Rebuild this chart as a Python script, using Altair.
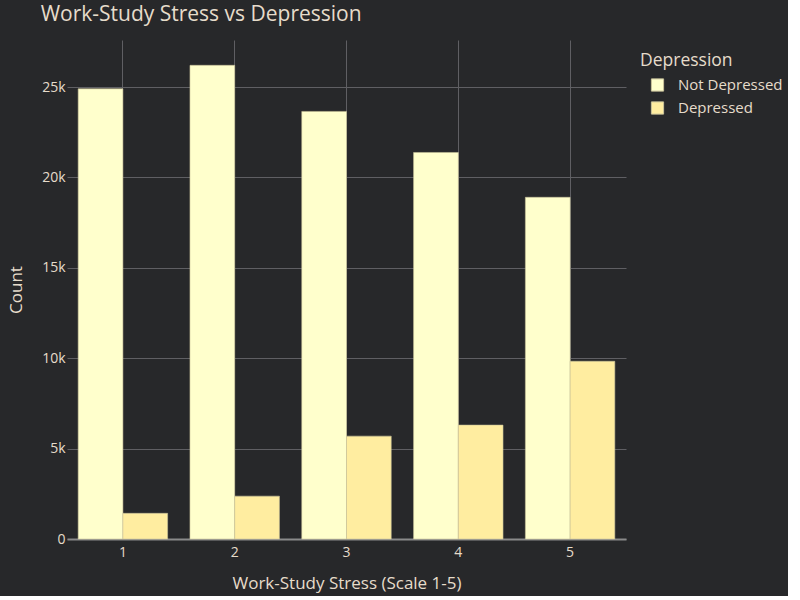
import altair as alt
import pandas as pd

stress = ["1", "2", "3", "4", "5"]
not_depressed = [24900, 26200, 23650, 21380, 18900]
depressed = [1420, 2370, 5690, 6300, 9830]
groups = ["Not Depressed", "Depressed"]
colors = ["#ffffcc", "#ffeda0"]

rows = []
for i, s in enumerate(stress):
    rows.append({"stress": s, "Depression": groups[0], "count": not_depressed[i]})
    rows.append({"stress": s, "Depression": groups[1], "count": depressed[i]})
df = pd.DataFrame(rows)

text_color = "#e6dccb"
grid_color = "#5f5f63"
font = "Open Sans"

chart = alt.Chart(df).mark_bar(stroke="#c9c29a", strokeWidth=0.6).encode(
    x=alt.X("stress:N", sort=stress,
            scale=alt.Scale(paddingInner=0.2, paddingOuter=0.1),
            axis=alt.Axis(title="Work-Study Stress (Scale 1-5)", labelAngle=0,
                          bandPosition=0.5, grid=True, gridColor=grid_color,
                          ticks=False, domain=True, domainColor="#8a8a8a",
                          domainWidth=2, labelPadding=6, titlePadding=16)),
    xOffset=alt.XOffset("Depression:N", sort=groups),
    y=alt.Y("count:Q", scale=alt.Scale(domain=[0, 27600], nice=False),
            axis=alt.Axis(title="Count", values=[0, 5000, 10000, 15000, 20000, 25000],
                          labelExpr="datum.value == 0 ? '0' : (datum.value/1000) + 'k'",
                          grid=True, gridColor=grid_color, ticks=False, domain=False,
                          labelPadding=2, titlePadding=16)),
    color=alt.Color("Depression:N", sort=groups,
                    scale=alt.Scale(domain=groups, range=colors),
                    legend=alt.Legend(title="Depression", symbolType="square",
                                      symbolSize=150, symbolStrokeColor="#c9c29a",
                                      symbolStrokeWidth=1, orient="none",
                                      legendX=573, legendY=12,
                                      labelFontSize=15, titleFontSize=17.5,
                                      titleFontWeight="normal", rowPadding=6,
                                      labelOffset=13, titlePadding=8,
                                      symbolOffset=10)),
).properties(
    width=559, height=499,
    background="#27282a",
    title=alt.TitleParams("Work-Study Stress vs Depression", anchor="start",
                          fontSize=21, fontWeight="normal", color=text_color,
                          font=font, offset=15, dx=33),
    padding={"left": 7, "top": 4, "right": 5, "bottom": 5},
).configure_view(stroke=None).configure_axis(
    labelColor=text_color, titleColor=text_color, labelFont=font, titleFont=font,
    labelFontSize=14, titleFontSize=17, titleFontWeight="normal",
).configure_legend(
    labelColor=text_color, titleColor=text_color, labelFont=font, titleFont=font,
)

chart.save("out.html", embed_options={"renderer": "svg", "actions": False})
